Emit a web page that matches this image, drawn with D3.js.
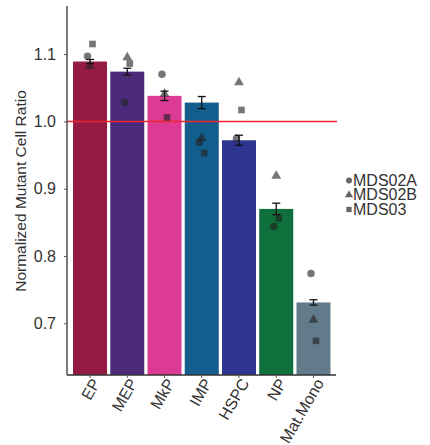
<!DOCTYPE html>
<html>
<head>
<meta charset="utf-8">
<script src="https://cdn.jsdelivr.net/npm/d3@7"></script>
<style>
  body { margin: 0; background: #fff; }
  svg text { font-family: "Liberation Sans", Arial, sans-serif; fill: #333; }
</style>
</head>
<body>
<div id="chart"></div>
<script>
// data
const cellTypes = ['EP', 'MEP', 'MkP', 'IMP', 'HSPC', 'NP', 'Mat.Mono'];
const barColors = ['#951b45', '#4b2a7c', '#dd3a95', '#135e8c', '#2d3590', '#10703b', '#627b8a'];
const meanRatio = [1.089, 1.074, 1.038, 1.028, 0.972, 0.870, 0.731];
const semRatio = [0.003, 0.005, 0.007, 0.009, 0.0075, 0.0085, 0.004];
const samples = ['MDS02A', 'MDS02B', 'MDS03'];
const sampleShapes = [d3.symbolCircle, d3.symbolTriangle, d3.symbolSquare];
const mds02a = [1.097, 1.028, 1.070, 0.969, 0.975, 0.844, 0.774];
const mds02b = [1.082, 1.095, 1.041, 0.975, 1.058, 0.919, 0.705];
const mds03 = [1.115, 1.086, 1.006, 0.953, 1.017, 0.856, 0.674];
const yTicks = [0.7, 0.8, 0.9, 1.0, 1.1];

const width = 430, height = 445;
const margin = {t: 6, r: 94, b: 70, l: 67};
const fontSize = '16px';

const svg = d3.select('#chart').append('svg')
    .attr('width', width)
    .attr('height', height);

// scales
const scaleX = d3.scaleBand()
    .domain(cellTypes)
    .range([71.4, 332.1])
    .paddingInner(0.087)
    .paddingOuter(0.0435);

const scaleY = d3.scaleLinear()
    .domain([0.6232, 1.1715])
    .range([375, margin.t]);

const y0 = scaleY.range()[0];

// bars
svg.append('g').selectAll('.bar')
    .data(cellTypes)
    .join('rect')
    .attr('class', 'bar')
    .attr('x', d => scaleX(d))
    .attr('y', (d, i) => scaleY(meanRatio[i]))
    .attr('width', scaleX.bandwidth())
    .attr('height', (d, i) => y0 - scaleY(meanRatio[i]))
    .style('fill', (d, i) => barColors[i]);

// reference line at 1.0
svg.append('line')
    .attr('x1', margin.l)
    .attr('x2', 337)
    .attr('y1', scaleY(1))
    .attr('y2', scaleY(1))
    .style('stroke', '#f0262a')
    .style('stroke-width', 1.5);

// sample points
const points = [];
[mds02a, mds02b, mds03].forEach((series, s) => {
    series.forEach((v, i) => points.push({cell: cellTypes[i], v: v, s: s}));
});
const jitter = [-2.5, 0, 2.5];
svg.append('g').selectAll('.pt')
    .data(points)
    .join('path')
    .attr('class', 'pt')
    .attr('transform', d => `translate(${scaleX(d.cell) + scaleX.bandwidth() / 2 + jitter[d.s]},${scaleY(d.v)})`)
    .attr('d', d => d3.symbol().type(sampleShapes[d.s]).size(d.s === 1 ? 42 : 44)())
    .style('fill', '#222')
    .style('fill-opacity', 0.62);

// error bars
const errG = svg.append('g').selectAll('.err')
    .data(cellTypes)
    .join('g')
    .attr('class', 'err')
    .attr('transform', d => `translate(${scaleX(d) + scaleX.bandwidth() / 2},0)`)
    .style('stroke', '#111')
    .style('stroke-width', 1.3);
errG.append('line')
    .attr('y1', (d, i) => scaleY(meanRatio[i] + semRatio[i]))
    .attr('y2', (d, i) => scaleY(meanRatio[i] - semRatio[i]));
errG.append('line')
    .attr('x1', -4).attr('x2', 4)
    .attr('y1', (d, i) => scaleY(meanRatio[i] + semRatio[i]))
    .attr('y2', (d, i) => scaleY(meanRatio[i] + semRatio[i]));
errG.append('line')
    .attr('x1', -4).attr('x2', 4)
    .attr('y1', (d, i) => scaleY(meanRatio[i] - semRatio[i]))
    .attr('y2', (d, i) => scaleY(meanRatio[i] - semRatio[i]));

// axes
const axisY = d3.axisLeft(scaleY)
    .tickValues(yTicks)
    .tickFormat(d3.format('.1f'))
    .tickSize(3)
    .tickPadding(8);
const gy = svg.append('g')
    .attr('transform', `translate(${margin.l},0)`)
    .call(axisY)
    .attr('font-size', null);
gy.select('.domain').attr('d', `M0,${margin.t}V${y0}`).style('stroke', '#333').style('stroke-width', 1.3);
gy.selectAll('.tick line').style('stroke', '#555');
gy.selectAll('.tick text').style('font-size', fontSize).style('fill', '#333');

const axisX = d3.axisBottom(scaleX)
    .tickSize(3)
    .tickPadding(4);
const gx = svg.append('g')
    .attr('transform', `translate(0,${y0})`)
    .call(axisX)
    .attr('font-size', null);
gx.select('.domain').attr('d', `M${margin.l},0H336`).style('stroke', '#333').style('stroke-width', 1.3);
gx.selectAll('.tick line').style('stroke', '#555');
gx.selectAll('.tick text')
    .style('font-size', fontSize)
    .style('fill', '#333')
    .attr('y', 0)
    .attr('dy', '0.35em')
    .attr('text-anchor', 'end')
    .attr('transform', 'translate(6,5) rotate(-60)');

// y axis title
svg.append('text')
    .attr('transform', 'translate(26,191) rotate(-90)')
    .attr('text-anchor', 'middle')
    .style('font-size', '15.5px')
    .text('Normalized Mutant Cell Ratio');

// legend
const legend = svg.append('g')
    .attr('transform', 'translate(345,180)');
samples.forEach((name, i) => {
    const row = legend.append('g').attr('transform', `translate(0,${i * 14.5})`);
    row.append('path')
        .attr('transform', 'translate(4,0.5)')
        .attr('d', d3.symbol().type(sampleShapes[i]).size(28)())
        .style('fill', '#666');
    row.append('text')
        .attr('x', 8)
        .attr('dy', '0.36em')
        .style('font-size', fontSize)
        .text(name);
});
</script>
</body>
</html>
